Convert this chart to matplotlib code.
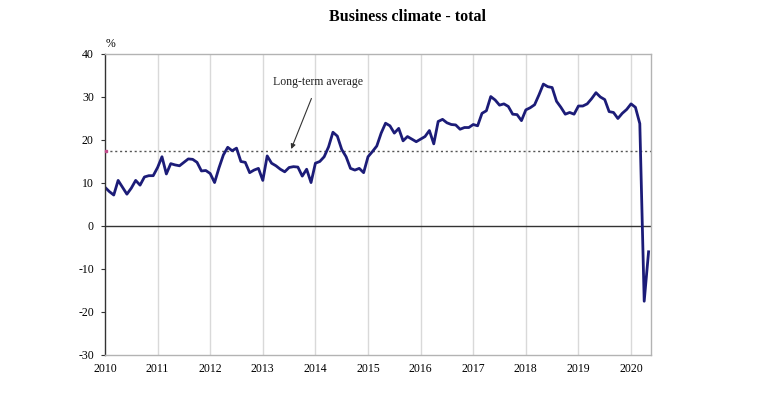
import matplotlib
matplotlib.use("Agg")
import matplotlib.pyplot as plt
import numpy as np

# Monthly values Jan 2010 .. May 2020
values = [
    9.0, 8.0, 7.2, 10.6, 9.0, 7.4, 8.8, 10.6, 9.5, 11.4, 11.7, 11.7,      # 2010
    13.6, 16.1, 12.1, 14.5, 14.2, 14.0, 14.8, 15.6, 15.5, 14.8, 12.8, 12.9,  # 2011
    12.2, 10.1, 13.5, 16.5, 18.3, 17.5, 18.1, 15.0, 14.8, 12.4, 13.0, 13.4,  # 2012
    10.6, 16.3, 14.6, 14.0, 13.2, 12.6, 13.6, 13.8, 13.7, 11.6, 13.2, 10.1,  # 2013
    14.6, 15.0, 16.1, 18.4, 21.8, 20.9, 17.8, 16.1, 13.4, 13.0, 13.4, 12.4,  # 2014
    16.1, 17.3, 18.6, 21.6, 23.9, 23.3, 21.6, 22.7, 19.8, 20.8, 20.2, 19.6,  # 2015
    20.2, 20.8, 22.2, 19.1, 24.3, 24.8, 24.0, 23.6, 23.5, 22.5, 22.9, 22.9,  # 2016
    23.6, 23.3, 26.2, 26.8, 30.1, 29.3, 28.1, 28.4, 27.8, 26.0, 25.9, 24.5,  # 2017
    27.0, 27.5, 28.2, 30.5, 33.0, 32.4, 32.2, 29.0, 27.6, 26.0, 26.4, 26.0,  # 2018
    27.9, 27.9, 28.4, 29.6, 31.0, 30.0, 29.4, 26.6, 26.4, 25.0, 26.2, 27.1,  # 2019
    28.4, 27.6, 23.8, -17.5, -6.0,                                            # 2020
]
start_year = 2010
long_term_average = 17.5
year_ticks = list(range(2010, 2021))
y_ticks = list(range(-30, 41, 10))
title = "Business climate - total"
annotation_text = "Long-term average"

serif = ["Liberation Serif", "DejaVu Serif"]

x = start_year + np.arange(len(values)) / 12.0

fig = plt.figure(figsize=(7.68, 3.99), dpi=100)
ax = fig.add_axes([0.1367, 0.1103, 0.8477 - 0.1367, 0.8647 - 0.1103])

ax.set_xlim(2010, 2020.38)
ax.set_ylim(-30, 40)

for yr in year_ticks[1:]:
    ax.axvline(yr, color="#d9d9d9", lw=1.0, zorder=0)

ax.axhline(0, color="#333333", lw=1.0, zorder=1)
ax.axhline(long_term_average, color="#555555", lw=1.0, ls=(0, (1.5, 2)), zorder=1)
ax.plot([2010.02], [long_term_average], marker="s", ms=2, color="#c04a8a", zorder=3, clip_on=False)

ax.plot(x, values, color="#1c1c78", lw=2.0, zorder=2, solid_joinstyle="round")

ax.annotate(annotation_text, xy=(2013.54, long_term_average + 0.4), xytext=(2014.05, 33.5),
            ha="center", va="center", fontsize=8.5, family=serif, color="#222222",
            arrowprops=dict(arrowstyle="-|>", color="#333333", lw=0.8, mutation_scale=7,
                            shrinkA=6, shrinkB=0))

ax.set_xticks(year_ticks)
ax.set_xticklabels([str(t) for t in year_ticks], family=serif, fontsize=8.5)
ax.set_yticks(y_ticks)
ax.set_yticklabels([str(t) for t in y_ticks], family=serif, fontsize=8.5)
ax.tick_params(axis="x", length=0, pad=6)
ax.tick_params(axis="y", length=3, width=0.8, color="#333333", pad=5)

for side in ("top", "right", "bottom"):
    ax.spines[side].set_color("#b3b3b3")
    ax.spines[side].set_linewidth(1.0)
ax.spines["left"].set_color("#333333")
ax.spines["left"].set_linewidth(1.0)

fig.text(0.1435, 0.875, "%", family=serif, fontsize=8.5, ha="center", va="bottom")
fig.text(0.531, 0.957, title, family=serif, fontsize=11.5, fontweight="bold",
         ha="center", va="center")

fig.savefig("out.png", dpi=100, facecolor="white")
